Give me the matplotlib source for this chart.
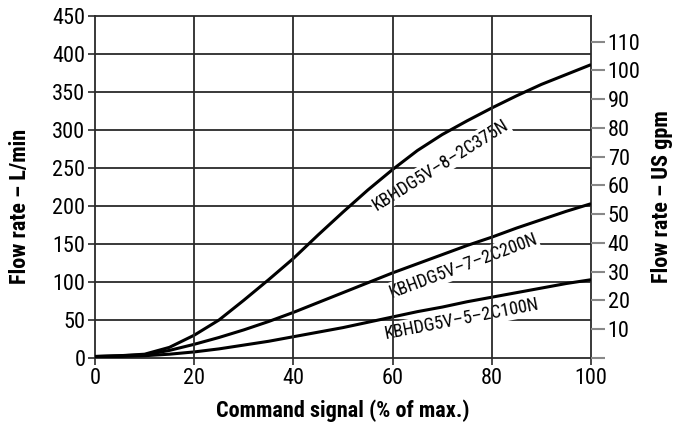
import matplotlib
matplotlib.use("Agg")
import matplotlib.pyplot as plt

plt.rcParams['font.family'] = ['Roboto Condensed', 'DejaVu Sans']

# Data
signal = [0, 5, 10, 15, 20, 25, 30, 35, 40, 45, 50, 55, 60, 65, 70, 75, 80, 85, 90, 95, 100]
flow_375 = [2, 3, 5, 14, 30, 50, 76, 103, 131, 162, 192, 221, 248, 273, 294, 312, 329, 345, 360, 373, 386]
flow_200 = [2, 3, 4, 10, 18, 27, 37, 48, 60, 73, 86, 99, 112, 124, 136, 148, 159, 171, 182, 193, 203]
flow_100 = [1, 2, 3, 5, 8, 12, 17, 22, 28, 34, 40, 47, 54, 61, 67, 74, 80, 86, 92, 98, 103]
series_labels = ["KBHDG5V–8–2C375N", "KBHDG5V–7–2C200N", "KBHDG5V–5–2C100N"]

x_ticks = [0, 20, 40, 60, 80, 100]
y_ticks = [0, 50, 100, 150, 200, 250, 300, 350, 400, 450]
gpm_ticks = [0, 10, 20, 30, 40, 50, 60, 70, 80, 90, 100, 110]
L_PER_GPM = 3.785

fig = plt.figure(figsize=(6.86, 4.24), dpi=100)
ax = fig.add_axes([95/686, 1-358/424, (591-95)/686, (358-16)/424])

grid_c = '#2a2a2a'
for yv in y_ticks[1:-1]:
    ax.axhline(yv, color=grid_c, lw=1.3, zorder=1)
for xv in x_ticks[1:-1]:
    ax.axvline(xv, color=grid_c, lw=1.3, zorder=5)

for ys in (flow_375, flow_200, flow_100):
    ax.plot(signal, ys, color='black', lw=2.2, zorder=3, solid_capstyle='butt',
            solid_joinstyle='round')

ax.set_xlim(0, 100)
ax.set_ylim(0, 450)
ax.set_xticks(x_ticks)
ax.set_yticks(y_ticks)
for sp in ax.spines.values():
    sp.set_color('#2a2a2a')
    sp.set_linewidth(1.3)
ax.tick_params(axis='both', labelsize=16, length=5, width=1.2, color='#2a2a2a', pad=2)

ax2 = ax.twinx()
ax2.set_ylim(0, 450 / L_PER_GPM)
ax2.set_yticks(gpm_ticks)
ax2.set_yticklabels([''] + [str(t) for t in gpm_ticks[1:]])
ax2.tick_params(axis='y', labelsize=16, length=10, width=1.5, color='#888888', pad=2)
for sp in ax2.spines.values():
    sp.set_visible(False)

ax.set_xlabel("Command signal (% of max.)", fontsize=16, fontweight='bold', labelpad=8)
fig.text(20/686, 1-206/424, "Flow rate – L/min", rotation=90, fontsize=16,
         fontweight='bold', ha='center', va='center')
fig.text(662/686, 1-197/424, "Flow rate – US gpm", rotation=90, fontsize=16,
         fontweight='bold', ha='center', va='center')

label_pos = [(69.6, 254, 32), (74.2, 121, 20.5), (74, 51, 11)]
for (xl, yl, ang), txt in zip(label_pos, series_labels):
    ax.text(xl, yl, txt, rotation=ang, rotation_mode='anchor', fontsize=13,
            ha='center', va='center', zorder=4,
            bbox=dict(facecolor='white', edgecolor='none', pad=1))

fig.savefig("out.png", dpi=100)
